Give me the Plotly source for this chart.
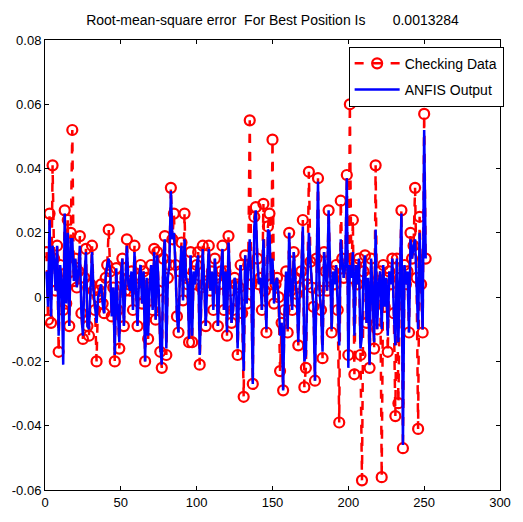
import plotly.graph_objects as go

checking_data = [
    0.014, -0.007, 0.026, -0.008, 0.041, 0.012, 0.002, 0.016, -0.017, 0.010,
    0.005, -0.004, 0.027, -0.002, 0.024, -0.009, 0.020, 0.052, 0.005, 0.012,
    0.003, 0.008, 0.019, -0.005, -0.013, 0.006, 0.015, -0.009, -0.012, 0.004,
    0.016, 0.002, -0.004, -0.020, 0.000, 0.002, 0.004, -0.002, -0.005, 0.006,
    0.010, 0.021, 0.008, -0.006, 0.003, -0.020, 0.009, -0.004, -0.016, 0.006,
    0.012, -0.009, 0.002, 0.018, 0.004, 0.002, 0.008, -0.004, 0.016, 0.004,
    -0.009, 0.006, 0.010, -0.002, 0.008, -0.020, 0.006, -0.013, 0.004, 0.010,
    -0.004, 0.015, -0.007, 0.014, 0.002, -0.017, -0.022, 0.012, 0.019, -0.018,
    0.006, 0.010, 0.034, 0.018, 0.026, 0.010, -0.006, -0.011, 0.008, 0.017,
    -0.001, 0.026, 0.006, 0.004, -0.014, 0.014, -0.014, 0.008, 0.004, 0.010,
    0.014, -0.021, 0.003, 0.016, 0.004, -0.009, 0.005, 0.016, 0.002, 0.008,
    -0.004, 0.012, 0.006, -0.009, 0.004, 0.008, 0.016, -0.004, 0.008, -0.012,
    0.019, 0.002, -0.008, -0.004, 0.006, 0.004, -0.018, 0.003, 0.010, -0.005,
    -0.031, 0.013, -0.002, 0.010, 0.055, 0.004, -0.027, 0.025, 0.028, 0.012,
    0.004, 0.006, -0.004, 0.029, 0.002, -0.011, 0.022, 0.026, 0.004, 0.049,
    -0.002, 0.004, 0.006, 0.000, -0.023, -0.008, -0.029, -0.004, 0.008, -0.011,
    0.020, 0.002, -0.004, 0.014, 0.006, 0.001, -0.015, 0.003, 0.008, 0.024,
    -0.028, -0.022, 0.004, 0.039, 0.011, 0.003, -0.003, -0.026, 0.012, 0.037,
    0.002, -0.004, -0.019, 0.014, 0.008, 0.002, 0.027, 0.006, -0.011, 0.008,
    0.004, 0.010, -0.004, -0.039, 0.030, 0.012, 0.006, 0.010, 0.038, -0.018,
    0.060, 0.006, 0.024, -0.024, 0.010, 0.004, 0.012, -0.018, -0.057, 0.008,
    0.013, -0.008, 0.006, -0.022, 0.012, 0.002, -0.016, 0.041, -0.010, 0.004,
    0.008, -0.056, 0.010, -0.003, 0.006, -0.017, 0.008, 0.004, 0.012, -0.005,
    -0.037, 0.012, -0.033, 0.006, 0.027, -0.047, 0.010, 0.004, 0.008, -0.011,
    0.020, 0.012, 0.016, 0.034, 0.006, -0.041, 0.025, 0.004, -0.011, 0.057,
    0.012,
]

anfis_output = [
    0.008, -0.003, 0.024, -0.006, 0.016, 0.012, 0.002, 0.016, -0.012, 0.010,
    0.005, -0.021, 0.026, -0.002, 0.020, -0.009, 0.018, 0.018, 0.005, 0.012,
    0.003, 0.008, 0.016, -0.005, -0.012, 0.006, 0.014, -0.009, -0.010, 0.004,
    0.014, 0.002, -0.004, -0.008, 0.000, 0.002, 0.004, -0.002, -0.005, 0.006,
    0.010, 0.012, 0.008, -0.006, 0.003, -0.018, 0.009, -0.004, -0.014, 0.006,
    0.012, -0.009, 0.002, 0.016, 0.004, 0.002, 0.008, -0.004, 0.014, 0.004,
    -0.009, 0.006, 0.010, -0.002, 0.008, -0.020, 0.006, -0.012, 0.004, 0.010,
    -0.004, 0.014, -0.007, 0.013, 0.002, -0.015, -0.021, 0.012, 0.018, -0.016,
    0.006, 0.010, 0.033, 0.018, 0.020, 0.010, -0.006, -0.011, 0.008, 0.016,
    -0.001, 0.018, 0.006, 0.004, -0.013, 0.013, -0.012, 0.008, 0.004, 0.010,
    0.013, -0.018, 0.003, 0.015, 0.004, -0.009, 0.005, 0.015, 0.002, 0.008,
    -0.004, 0.012, 0.006, -0.009, 0.004, 0.008, 0.015, -0.004, 0.008, -0.011,
    0.017, 0.002, -0.008, -0.004, 0.006, 0.004, -0.016, 0.003, 0.010, -0.005,
    -0.023, 0.013, -0.002, 0.010, 0.018, 0.004, -0.027, 0.022, 0.027, 0.012,
    0.004, 0.006, -0.004, 0.018, 0.002, -0.010, 0.021, 0.020, 0.004, 0.012,
    -0.002, 0.004, 0.006, 0.000, -0.012, -0.008, -0.029, -0.004, 0.008, -0.010,
    0.020, 0.002, -0.004, 0.014, 0.006, 0.001, -0.014, 0.003, 0.008, 0.022,
    -0.020, -0.018, 0.004, 0.020, 0.011, 0.003, -0.003, -0.026, 0.012, 0.036,
    0.002, -0.004, -0.017, 0.014, 0.008, 0.002, 0.027, 0.006, -0.010, 0.008,
    0.004, 0.010, -0.004, -0.015, 0.018, 0.012, 0.006, 0.010, 0.037, -0.022,
    0.010, 0.006, 0.014, -0.012, 0.010, 0.004, 0.012, -0.016, -0.012, 0.008,
    0.013, -0.008, 0.006, -0.021, 0.012, 0.002, -0.014, 0.021, -0.010, 0.004,
    0.008, -0.010, 0.010, -0.003, 0.006, -0.012, 0.008, 0.004, 0.012, -0.005,
    -0.015, 0.012, -0.014, 0.006, 0.026, -0.046, 0.010, 0.004, 0.008, -0.011,
    0.018, 0.012, 0.016, 0.018, 0.006, -0.010, 0.020, 0.004, -0.010, 0.052,
    0.012,
]

x_idx = list(range(1, len(checking_data) + 1))

x_ticks = [0, 50, 100, 150, 200, 250, 300]
y_ticks = [-0.06, -0.04, -0.02, 0, 0.02, 0.04, 0.06, 0.08]
y_tick_labels = ["-0.06", "-0.04", "-0.02", "0", "0.02", "0.04", "0.06", "0.08"]

title_text = ("Root-mean-square error\u00a0\u00a0For Best Position Is"
              "\u00a0\u00a0\u00a0\u00a0\u00a0\u00a0\u00a00.0013284")

FONT = "Liberation Sans, Arial, sans-serif"

fig = go.Figure()
fig.add_trace(go.Scatter(
    x=x_idx, y=checking_data, name="Checking Data", mode="lines+markers",
    legendgroup="a",
    line=dict(color="#ff0000", width=2.5, dash="dash"),
    marker=dict(symbol="circle-open", size=10, color="#ff0000",
                line=dict(color="#ff0000", width=2.2)),
))
fig.add_trace(go.Scatter(
    x=x_idx, y=anfis_output, name="ANFIS Output", mode="lines",
    legendgroup="b",
    line=dict(color="#0000ff", width=2.5),
))

axis_common = dict(
    showline=True, linecolor="black", linewidth=1, mirror="allticks",
    ticks="inside", ticklen=4, tickcolor="black", showgrid=False,
    zeroline=False, tickfont=dict(family=FONT, size=13, color="black"),
)

fig.update_layout(
    width=523, height=522,
    margin=dict(l=44, r=14, t=40, b=27),
    paper_bgcolor="white", plot_bgcolor="white",
    title=dict(text=title_text, x=0.5, xref="paper", xanchor="center",
               y=1 - 20 / 522, yanchor="middle",
               font=dict(family=FONT, size=14, color="black")),
    showlegend=True,
    legend=dict(x=1.008, y=0.985, xanchor="right", yanchor="top",
                bgcolor="white", bordercolor="black", borderwidth=1,
                font=dict(family=FONT, size=14, color="black"),
                itemwidth=45, tracegroupgap=5),
    xaxis=dict(range=[0, 300], tickvals=x_ticks, **axis_common),
    yaxis=dict(range=[-0.06, 0.08], tickvals=y_ticks, ticktext=y_tick_labels, **axis_common),
)

fig.write_html("out.html")
